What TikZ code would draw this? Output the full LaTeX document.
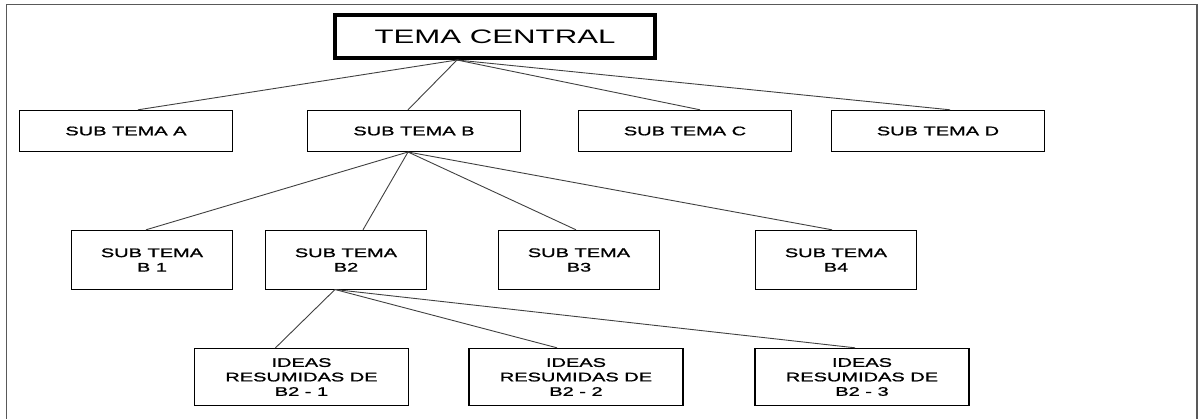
\documentclass[tikz,border=0pt]{standalone}
\usepackage{fontspec}
\setmainfont{Liberation Sans}[FakeStretch=1.6]
\newfontfamily\boxfont{Liberation Sans}[FakeStretch=1.6, FakeBold=1.2]
\usepackage{tikz}

\tikzset{
  topbox/.style={draw, line width=4pt, minimum width=320pt, minimum height=43pt, inner sep=0pt,
    font=\fontsize{19.5}{22}\selectfont},
  subbox/.style={draw, line width=1.4pt, minimum height=41pt, minimum width=213pt, inner sep=0pt,
    align=center, font=\boxfont\fontsize{12.5}{14.5}\selectfont},
  bbox/.style={subbox, minimum width=161pt, minimum height=59pt},
  ideabox/.style={subbox, minimum width=214pt, minimum height=57pt},
  branch/.style={draw=black!75, line width=0.9pt}
}

\begin{document}
\begin{tikzpicture}[x=1pt, y=-1pt]
  \path[use as bounding box] (0,0) rectangle (1202,418);
  \draw[black!65, line width=1.5pt] (6.5,430) -- (6.5,4.5) -- (1197,4.5) -- (1197,430);

  \node[topbox] (tema) at (495,36.5) {TEMA CENTRAL};
  \coordinate (tema-out) at (457,60);

  \node[subbox] (suba) at (126,131) {SUB TEMA A};
  \node[subbox] (subb) at (414,131) {SUB TEMA B};
  \node[subbox] (subc) at (685,131) {SUB TEMA C};
  \node[subbox] (subd) at (938,131) {SUB TEMA D};
  \coordinate (subb-out) at (408,152);

  \node[bbox] (b1) at (152,260) {SUB TEMA\\B 1};
  \node[bbox] (b2) at (346,260) {SUB TEMA\\B2};
  \node[bbox] (b3) at (579,260) {SUB TEMA\\B3};
  \node[bbox] (b4) at (836,260) {SUB TEMA\\B4};
  \coordinate (b2-out) at (335,289.5);

  \node[ideabox] (i1) at (301.5,377) {IDEAS\\RESUMIDAS DE\\B2 - 1};
  \node[ideabox] (i2) at (576,377) {IDEAS\\RESUMIDAS DE\\B2 - 2};
  \node[ideabox] (i3) at (862,377) {IDEAS\\RESUMIDAS DE\\B2 - 3};

  \draw[branch] (tema-out) -- ([xshift=12pt]suba.north);
  \draw[branch] (tema-out) -- ([xshift=-6pt]subb.north);
  \draw[branch] (tema-out) -- ([xshift=15pt]subc.north);
  \draw[branch] (tema-out) -- ([xshift=12pt]subd.north);

  \draw[branch] (subb-out) -- ([xshift=-6pt]b1.north);
  \draw[branch] (subb-out) -- ([xshift=17pt]b2.north);
  \draw[branch] (subb-out) -- ([xshift=-3pt]b3.north);
  \draw[branch] (subb-out) -- ([xshift=-4pt]b4.north);

  \draw[branch] (b2-out) -- ([xshift=-26pt]i1.north);
  \draw[branch] (b2-out) -- ([xshift=-19pt]i2.north);
  \draw[branch] (b2-out) -- ([xshift=-7pt]i3.north);
\end{tikzpicture}
\end{document}
